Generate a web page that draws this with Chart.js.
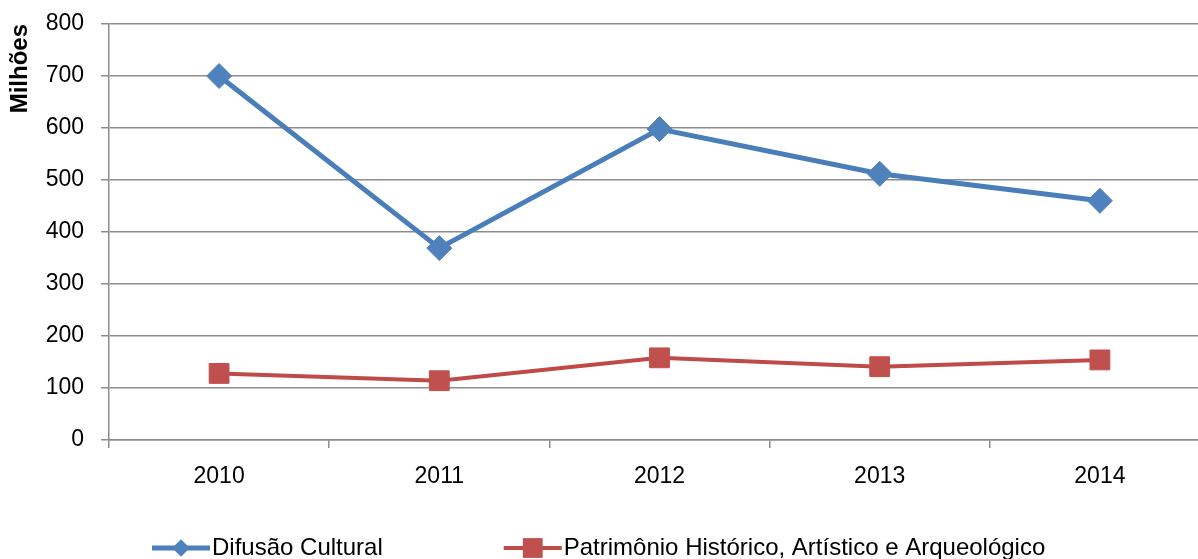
<!DOCTYPE html>
<html>
<head>
<meta charset="utf-8">
<script src="https://cdn.jsdelivr.net/npm/chart.js@4/dist/chart.umd.min.js"></script>
<style>
  html, body { margin: 0; padding: 0; background: #fff; overflow: hidden; }
  #wrap { position: relative; width: 1210px; height: 559px; }
</style>
</head>
<body>
<div id="wrap"><canvas id="myChart"></canvas></div>
<script>
const years = ['2010', '2011', '2012', '2013', '2014'];
const difusaoCultural = [700, 369, 598, 512, 460];
const patrimonio = [128, 114, 158, 141, 154];
const yTicks = [0, 100, 200, 300, 400, 500, 600, 700, 800];

const gridColor = '#8c8c8c';
const fontName = "'Liberation Sans', Arial, sans-serif";

// legend drawn at the bottom: short line with marker, then label
const bottomLegend = {
    id: 'bottomLegend',
    afterDraw(chart) {
        const ctx = chart.ctx;
        const y = 548;
        let x = 152;
        ctx.save();
        ctx.font = '24px ' + fontName;
        ctx.textBaseline = 'middle';
        ctx.textAlign = 'left';
        chart.data.datasets.forEach((ds) => {
            const lineLen = 58;
            ctx.strokeStyle = ds.borderColor;
            ctx.lineWidth = ds.borderWidth;
            ctx.beginPath();
            ctx.moveTo(x, y);
            ctx.lineTo(x + lineLen, y);
            ctx.stroke();
            const cx = x + lineLen / 2;
            const s = ds.pointRadius * Math.SQRT1_2;
            ctx.fillStyle = ds.pointBackgroundColor;
            ctx.beginPath();
            if (ds.pointStyle === 'rectRot') {
                ctx.moveTo(cx, y - s);
                ctx.lineTo(cx + s, y);
                ctx.lineTo(cx, y + s);
                ctx.lineTo(cx - s, y);
                ctx.closePath();
            } else {
                ctx.rect(cx - s, y - s, 2 * s, 2 * s);
            }
            ctx.fill();
            ctx.fillStyle = '#000';
            ctx.fillText(ds.label, x + lineLen + 2, y);
            x += lineLen + 2 + ctx.measureText(ds.label).width + 121;
        });
        ctx.restore();
    }
};

new Chart(document.getElementById('myChart'), {
    type: 'line',
    data: {
        labels: years,
        datasets: [{
            label: 'Difusão Cultural',
            data: difusaoCultural,
            borderColor: '#4A7EBB',
            borderWidth: 5,
            pointStyle: 'rectRot',
            pointRadius: 12.5,
            pointBackgroundColor: '#4F81BD',
            pointBorderColor: '#4F81BD',
            pointBorderWidth: 1,
            tension: 0
        }, {
            label: 'Patrimônio Histórico, Artístico e Arqueológico',
            data: patrimonio,
            borderColor: '#BE4B48',
            borderWidth: 4,
            pointStyle: 'rect',
            pointRadius: 14,
            pointBackgroundColor: '#C0504D',
            pointBorderColor: '#C0504D',
            pointBorderWidth: 1,
            tension: 0
        }]
    },
    options: {
        responsive: true,
        maintainAspectRatio: false,
        animation: false,
        layout: {
            autoPadding: false,
            padding: { top: 24, bottom: 59, left: 0, right: 0 }
        },
        plugins: {
            legend: { display: false },
            tooltip: { enabled: false }
        },
        scales: {
            x: {
                type: 'category',
                offset: true,
                afterFit: (scale) => {
                    scale.height = 60;
                    scale.paddingLeft = 0;
                    scale.paddingRight = 0;
                },
                grid: {
                    offset: true,
                    drawOnChartArea: false,
                    tickLength: 8,
                    color: gridColor,
                    lineWidth: 1.5
                },
                border: { display: true, color: gridColor, width: 1.5 },
                ticks: {
                    color: '#000',
                    padding: 15,
                    maxRotation: 0,
                    font: { family: fontName, size: 23 }
                }
            },
            y: {
                min: 0,
                max: 800,
                afterFit: (scale) => {
                    scale.width = 109;
                    scale.paddingTop = 0;
                    scale.paddingBottom = 0;
                },
                afterBuildTicks: (scale) => {
                    scale.ticks = yTicks.map(v => ({ value: v }));
                },
                grid: { color: gridColor, lineWidth: 1.5, tickLength: 8 },
                border: { display: true, color: gridColor, width: 1.5 },
                ticks: {
                    color: '#000',
                    padding: 17,
                    font: { family: fontName, size: 23 }
                },
                title: {
                    display: true,
                    text: 'Milhões',
                    align: 'end',
                    color: '#000',
                    padding: { top: 6, bottom: 0 },
                    font: { family: fontName, size: 24, weight: 'bold' }
                }
            }
        }
    },
    plugins: [bottomLegend]
});
</script>
</body>
</html>
